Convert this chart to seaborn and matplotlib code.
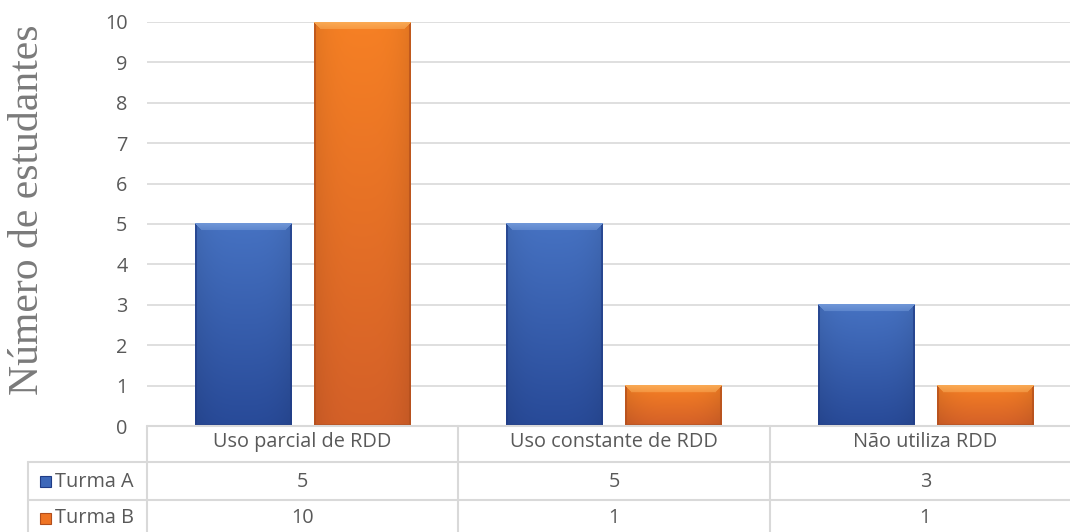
import numpy as np
import pandas as pd
import matplotlib
matplotlib.use("Agg")
import matplotlib.pyplot as plt
import seaborn as sns
from matplotlib.patches import Rectangle
from matplotlib.lines import Line2D

categories = ["Uso parcial de RDD", "Uso constante de RDD", "Não utiliza RDD"]
series = ["Turma A", "Turma B"]
turma_a = [5, 5, 3]
turma_b = [10, 1, 1]
y_ticks = list(range(0, 11))

TEXT = "#595959"
GRID = "#d9d9d9"
BASE = {"Turma A": "#3d68b9", "Turma B": "#ef7424"}
# (top, bottom, bevel highlight, side shade) for each series
SHADES = {
    "Turma A": ((70, 114, 194), (40, 74, 152), (122, 160, 222), (32, 60, 134)),
    "Turma B": ((246, 128, 36), (212, 96, 40), (252, 180, 96), (178, 78, 28)),
}

df = pd.DataFrame({
    "categoria": categories * 2,
    "turma": [series[0]] * 3 + [series[1]] * 3,
    "valor": turma_a + turma_b,
})

sns.set_theme(style="white")
plt.rcParams["font.family"] = ["Open Sans", "DejaVu Sans"]

W, H = 1070, 532
fig = plt.figure(figsize=(W / 100, H / 100), dpi=100)
ax = fig.add_axes([147 / W, 1 - 426 / H, 934 / W, 404 / H])

sns.barplot(data=df, x="categoria", y="valor", hue="turma", order=categories,
            hue_order=series, palette=BASE, width=0.765, gap=0.19,
            legend=False, ax=ax, linewidth=0, saturation=1)

fs = 14.3
ax.set_xlim(-0.5, 2.5)
ax.set_ylim(0, 10)
ax.set_yticks(y_ticks)
ax.set_yticklabels([str(t) for t in y_ticks], fontsize=fs, color=TEXT)
ax.tick_params(axis="y", length=0, pad=14)
ax.set_xticks([])
ax.set_xlabel("")
ax.set_ylabel("")
for s in ax.spines.values():
    s.set_visible(False)
ax.yaxis.grid(True, color=GRID, linewidth=1.2)
ax.set_axisbelow(True)


def bar_image(wpx, hpx, shade):
    top, bot, hi, side = [np.array(c, float) / 255 for c in shade]
    r = np.arange(hpx)[:, None] * np.ones((1, wpx))
    c = np.ones((hpx, 1)) * np.arange(wpx)[None, :]
    t = r / max(hpx - 1, 1)
    img = top[None, None, :] * (1 - t[..., None]) + bot[None, None, :] * t[..., None]
    # gentle darkening toward the vertical edges
    xc = np.abs(c - (wpx - 1) / 2) / ((wpx - 1) / 2)
    img *= (1 - 0.08 * xc ** 3)[..., None]
    b = 7
    dl, dr, db = c, wpx - 1 - c, hpx - 1 - r
    topband = (r < b) & (r <= dl) & (r <= dr)
    fade = (1 - r / b)[..., None] * 0.35 + 0.45
    img = np.where(topband[..., None], hi * fade + img * (1 - fade), img)
    leftband = (dl < 2) & ~topband
    rightband = (dr < 2) & ~topband
    botband = (db < 2)
    for m in (leftband, rightband, botband):
        img[m] = side * 0.7 + img[m] * 0.3
    return np.clip(img, 0, 1)


fig.canvas.draw()
for patch in list(ax.patches):
    fc = matplotlib.colors.to_hex(patch.get_facecolor())
    name = [k for k, v in BASE.items() if v == fc][0]
    x0, y0 = patch.get_x(), patch.get_y()
    x1, y1 = x0 + patch.get_width(), y0 + patch.get_height()
    if y1 - y0 <= 0:
        continue
    p0 = ax.transData.transform((x0, y0))
    p1 = ax.transData.transform((x1, y1))
    wpx = max(int(round(p1[0] - p0[0])), 2)
    hpx = max(int(round(p1[1] - p0[1])), 2)
    ax.imshow(bar_image(wpx, hpx, SHADES[name]), extent=[x0, x1, y0, y1],
              origin="upper", aspect="auto", zorder=patch.get_zorder() + 0.1,
              interpolation="bilinear")
ax.set_xlim(-0.5, 2.5)
ax.set_ylim(0, 10)

# data table beneath the plot
tr = ax.get_xaxis_transform()
row_lines = [-0.089, -0.183]
bottom = -0.30
left_x = -0.5 - (147 - 28) / 311
for yv in row_lines:
    ax.add_line(Line2D([left_x, 2.5], [yv, yv], transform=tr, color=GRID,
                       linewidth=1.5, clip_on=False))
for xv in [-0.5, 0.5, 1.5, 2.5]:
    ax.add_line(Line2D([xv, xv], [0, bottom], transform=tr, color=GRID,
                       linewidth=1.5, clip_on=False))
ax.add_line(Line2D([left_x, left_x], [row_lines[0], bottom], transform=tr,
                   color=GRID, linewidth=1.5, clip_on=False))
ax.add_line(Line2D([-0.5, 2.5], [0, 0], transform=tr, color=GRID,
                   linewidth=1.5, clip_on=False))

row_y = {"cat": -0.040, series[0]: -0.138, series[1]: -0.228}
for i, cat in enumerate(categories):
    ax.text(i, row_y["cat"], cat, transform=tr, ha="center", va="center",
            fontsize=fs, color=TEXT, clip_on=False)
    ax.text(i, row_y[series[0]], str(turma_a[i]), transform=tr, ha="center",
            va="center", fontsize=fs, color=TEXT, clip_on=False)
    ax.text(i, row_y[series[1]], str(turma_b[i]), transform=tr, ha="center",
            va="center", fontsize=fs, color=TEXT, clip_on=False)

key_x0 = -0.5 - (147 - 40) / 311
key_w = 11 / 311
key_h = 11 / 404
for name in series:
    yc = row_y[name]
    ax.add_patch(Rectangle((key_x0, yc - key_h / 2), key_w, key_h, transform=tr,
                           facecolor=BASE[name],
                           edgecolor=np.array(SHADES[name][3]) / 255,
                           linewidth=0.8, clip_on=False))
    ax.text(key_x0 + key_w + 4 / 311, yc, name, transform=tr, ha="left",
            va="center", fontsize=fs, color=TEXT, clip_on=False)

fig.text(28 / W, 1 - 210 / H, "Número de estudantes", rotation=90,
         ha="center", va="center", fontsize=30, color="#7a7a7a",
         family=["Liberation Serif", "DejaVu Serif"])

fig.savefig("out.png", dpi=100, facecolor="white")
